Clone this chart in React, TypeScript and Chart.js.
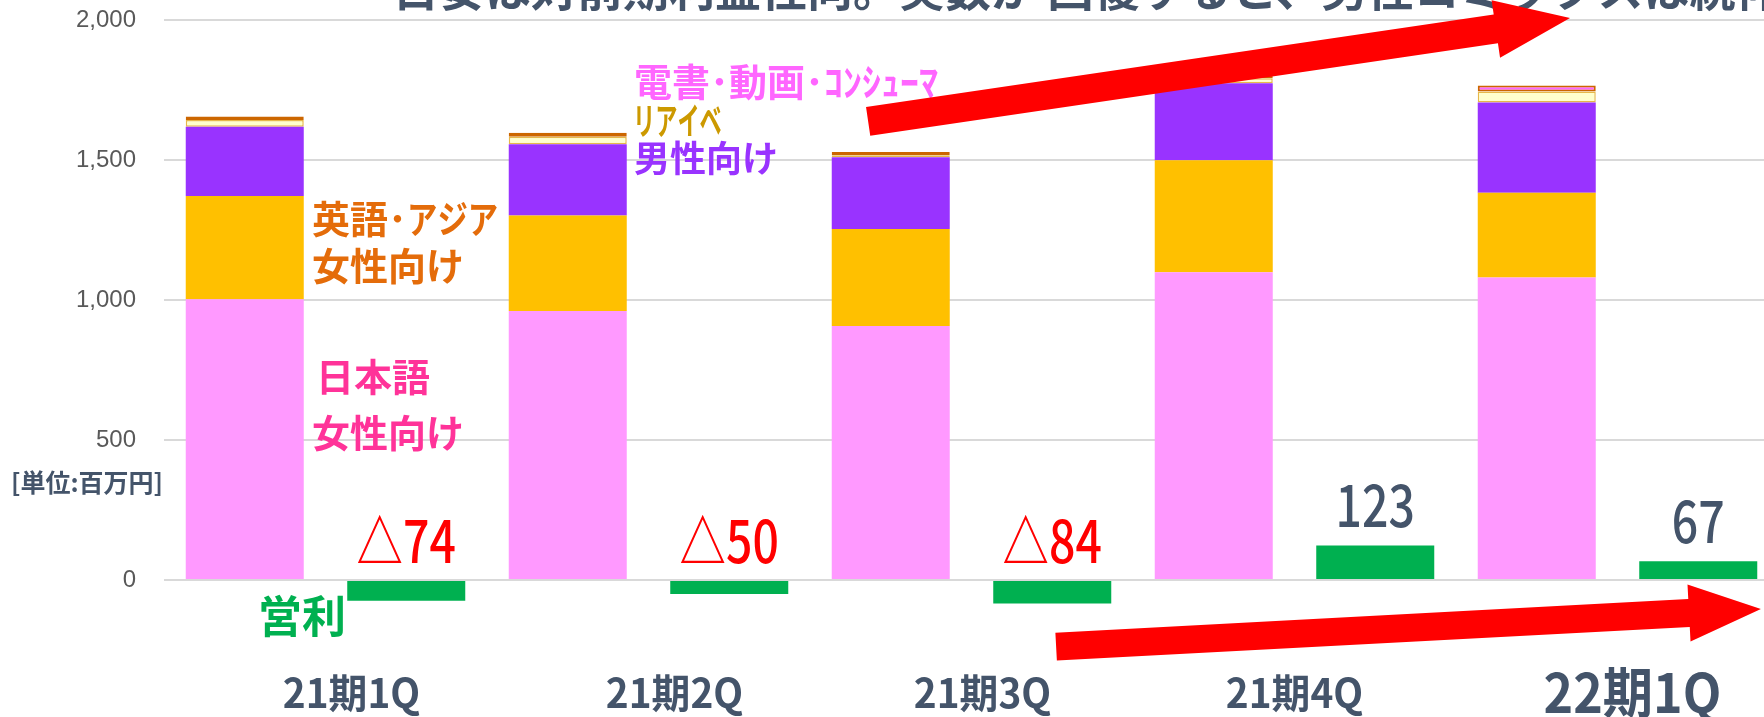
import React, { useEffect, useRef } from 'react';
import { Chart, registerables } from 'chart.js';

Chart.register(...registerables);

// ---- data ----
const categories = ['21期1Q', '21期2Q', '21期3Q', '21期4Q', '22期1Q'];
const japaneseFemale = [1003, 961, 907, 1099, 1080];
const englishAsiaFemale = [368, 341, 347, 400, 303];
const maleTitles = [248, 254, 256, 275, 322];
const liveEvents = [24, 27, 7, 18, 40];
const ebookVideoConsumer = [12, 14, 12, 10, 21];
const operatingProfit = [-74, -50, -84, 123, 67];
const yTickValues = [0, 500, 1000, 1500, 2000];

// ---- style constants ----
const CJK = '"Noto Sans CJK JP", "Noto Sans", sans-serif';
const SLATE = '#44546a';
const xLabelOffsets = [26, 26, 11, 0, 15];

type Arrow = { from: [number, number]; to: [number, number]; shaft: number; head: number; headLen: number };
const arrows: Arrow[] = [
  { from: [1.68, 1638], to: [3.853, 2007], shaft: 14.5, head: 29, headLen: 75 },
  { from: [2.262, -238], to: [4.444, -104], shaft: 14, head: 28.5, headLen: 72 },
];

function drawParts(
  ctx: CanvasRenderingContext2D,
  parts: [string, number][],
  x: number,
  y: number,
  font: string,
  color: string,
  align: 'left' | 'center' = 'left',
  baseline: CanvasTextBaseline = 'middle'
) {
  ctx.save();
  ctx.font = font;
  ctx.fillStyle = color;
  ctx.textAlign = 'left';
  ctx.textBaseline = baseline;
  const widths = parts.map(([t, s]) => ctx.measureText(t).width * s);
  const total = widths.reduce((a, b) => a + b, 0);
  let cx = align === 'center' ? x - total / 2 : x;
  parts.forEach(([t, s], i) => {
    ctx.save();
    ctx.translate(cx, y);
    ctx.scale(s, 1);
    ctx.fillText(t, 0, 0);
    ctx.restore();
    cx += widths[i];
  });
  ctx.restore();
}

const annotations = {
  id: 'annotations',
  afterDraw(chart: any) {
    const ctx: CanvasRenderingContext2D = chart.ctx;
    const xs = chart.scales.x;
    const ys = chart.scales.y;

    // title (clipped at the top)
    drawParts(ctx, [['目安は対前期利益性向。実数が 回復すると、男性コミックスは続伸中', 1]], 393, 6,
      `bold 46px ${CJK}`, SLATE, 'left', 'alphabetic');

    // segment labels
    drawParts(ctx, [['英語', 1], ['･', 1], ['アジア', 0.8]], 312, 219, `bold 38px ${CJK}`, '#e46c0a');
    drawParts(ctx, [['女性向け', 1]], 312, 266, `bold 38px ${CJK}`, '#e46c0a');
    drawParts(ctx, [['日本語', 1]], 316, 377, `bold 38px ${CJK}`, '#ff3399');
    drawParts(ctx, [['女性向け', 1]], 312, 433, `bold 38px ${CJK}`, '#ff3399');
    drawParts(ctx, [['電書', 1], ['･', 1], ['動画', 1], ['･', 1], ['ｺﾝｼｭｰﾏ', 1]], 634, 82, `bold 38px ${CJK}`, '#ff66ff');
    drawParts(ctx, [['リアイベ', 0.6]], 633, 121, `bold 37px ${CJK}`, '#cc9900');
    drawParts(ctx, [['男性向け', 1]], 634, 158, `bold 36px ${CJK}`, '#9933ff');
    drawParts(ctx, [['営利', 1]], 258, 616, `bold 44px ${CJK}`, '#00b050');
    drawParts(ctx, [['[単位:百万円]', 1]], 11, 482, `bold 25px ${CJK}`, SLATE);

    // operating profit value labels
    const meta = chart.getDatasetMeta(5);
    operatingProfit.forEach((v, i) => {
      const el = meta.data[i];
      const top = Math.min(el.y, el.base);
      const txt = v < 0 ? '△' + Math.abs(v) : String(v);
      drawParts(ctx, [[txt, 0.8]], el.x, top - 18.5, `500 58px ${CJK}`, v < 0 ? '#ff0000' : SLATE, 'center', 'alphabetic');
    });

    // category labels
    categories.forEach((c, i) => {
      const x = xs.getPixelForValue(i) + xLabelOffsets[i];
      const last = i === categories.length - 1;
      drawParts(ctx, [[c, last ? 0.93 : 0.97]], x, last ? 713 : 708, `bold ${last ? 54 : 40}px ${CJK}`, SLATE, 'center', 'alphabetic');
    });

    // arrows
    arrows.forEach((a) => {
      const tx = xs.getPixelForValue(a.from[0]);
      const ty = ys.getPixelForValue(a.from[1]);
      const px = xs.getPixelForValue(a.to[0]);
      const py = ys.getPixelForValue(a.to[1]);
      const len = Math.hypot(px - tx, py - ty);
      const ux = (px - tx) / len;
      const uy = (py - ty) / len;
      const nx = -uy;
      const ny = ux;
      const bx = px - ux * a.headLen;
      const by = py - uy * a.headLen;
      ctx.save();
      ctx.fillStyle = '#ff0000';
      ctx.beginPath();
      ctx.moveTo(tx + nx * a.shaft, ty + ny * a.shaft);
      ctx.lineTo(bx + nx * a.shaft, by + ny * a.shaft);
      ctx.lineTo(bx + nx * a.head, by + ny * a.head);
      ctx.lineTo(px, py);
      ctx.lineTo(bx - nx * a.head, by - ny * a.head);
      ctx.lineTo(bx - nx * a.shaft, by - ny * a.shaft);
      ctx.lineTo(tx - nx * a.shaft, ty - ny * a.shaft);
      ctx.closePath();
      ctx.fill();
      ctx.restore();
    });
  },
};

export default function App() {
  const ref = useRef<HTMLCanvasElement>(null);

  useEffect(() => {
    const canvas = ref.current;
    if (!canvas) return;
    const chart = new Chart(canvas, {
      type: 'bar',
      data: {
        labels: categories,
        datasets: [
          { label: '日本語女性向け', data: japaneseFemale, backgroundColor: '#ff99ff', stack: 'sales', borderWidth: 0 },
          { label: '英語・アジア女性向け', data: englishAsiaFemale, backgroundColor: '#ffc000', stack: 'sales', borderWidth: 0 },
          { label: '男性向け', data: maleTitles, backgroundColor: '#9933ff', stack: 'sales', borderWidth: 0 },
          {
            label: 'リアイベ', data: liveEvents, backgroundColor: '#ffffcc', borderColor: '#e6b84a',
            borderWidth: 1.5, borderSkipped: false, stack: 'sales',
          },
          {
            label: '電書・動画・コンシューマ', data: ebookVideoConsumer, backgroundColor: '#ff66ff', borderColor: '#cc6600',
            borderWidth: 2, borderSkipped: false, stack: 'sales',
          },
          { label: '営業利益', data: operatingProfit, backgroundColor: '#00b050', stack: 'profit', borderWidth: 0 },
        ],
      },
      options: {
        animation: false,
        responsive: false,
        maintainAspectRatio: false,
        layout: { padding: { left: 0, right: 21, top: 20, bottom: 81 } },
        datasets: { bar: { categoryPercentage: 1, barPercentage: 0.7307 } },
        plugins: { legend: { display: false }, tooltip: { enabled: false } },
        scales: {
          x: { display: false, stacked: true, offset: true, grid: { display: false } },
          y: {
            stacked: true,
            min: -200,
            max: 2000,
            afterBuildTicks: (s: any) => {
              s.ticks = yTickValues.map((v) => ({ value: v }));
            },
            afterFit: (s: any) => {
              s.width = 164;
              s.paddingTop = 0;
              s.paddingBottom = 0;
            },
            ticks: {
              padding: 28,
              color: '#595959',
              font: { family: '"Liberation Sans", Arial, sans-serif', size: 24 },
              callback: (v: any) => Number(v).toLocaleString('en-US'),
            },
            grid: { color: '#d9d9d9', lineWidth: 2, drawTicks: false },
            border: { display: false },
          },
        },
      },
      plugins: [annotations],
    });
    return () => chart.destroy();
  }, []);

  return (
    <div style={{ position: 'fixed', left: 0, top: 0, width: '100vw', height: '100vh', overflow: 'hidden', background: '#fff' }}>
      <canvas ref={ref} width={1800} height={717} style={{ display: 'block', width: 1800, height: 717 }} />
    </div>
  );
}
